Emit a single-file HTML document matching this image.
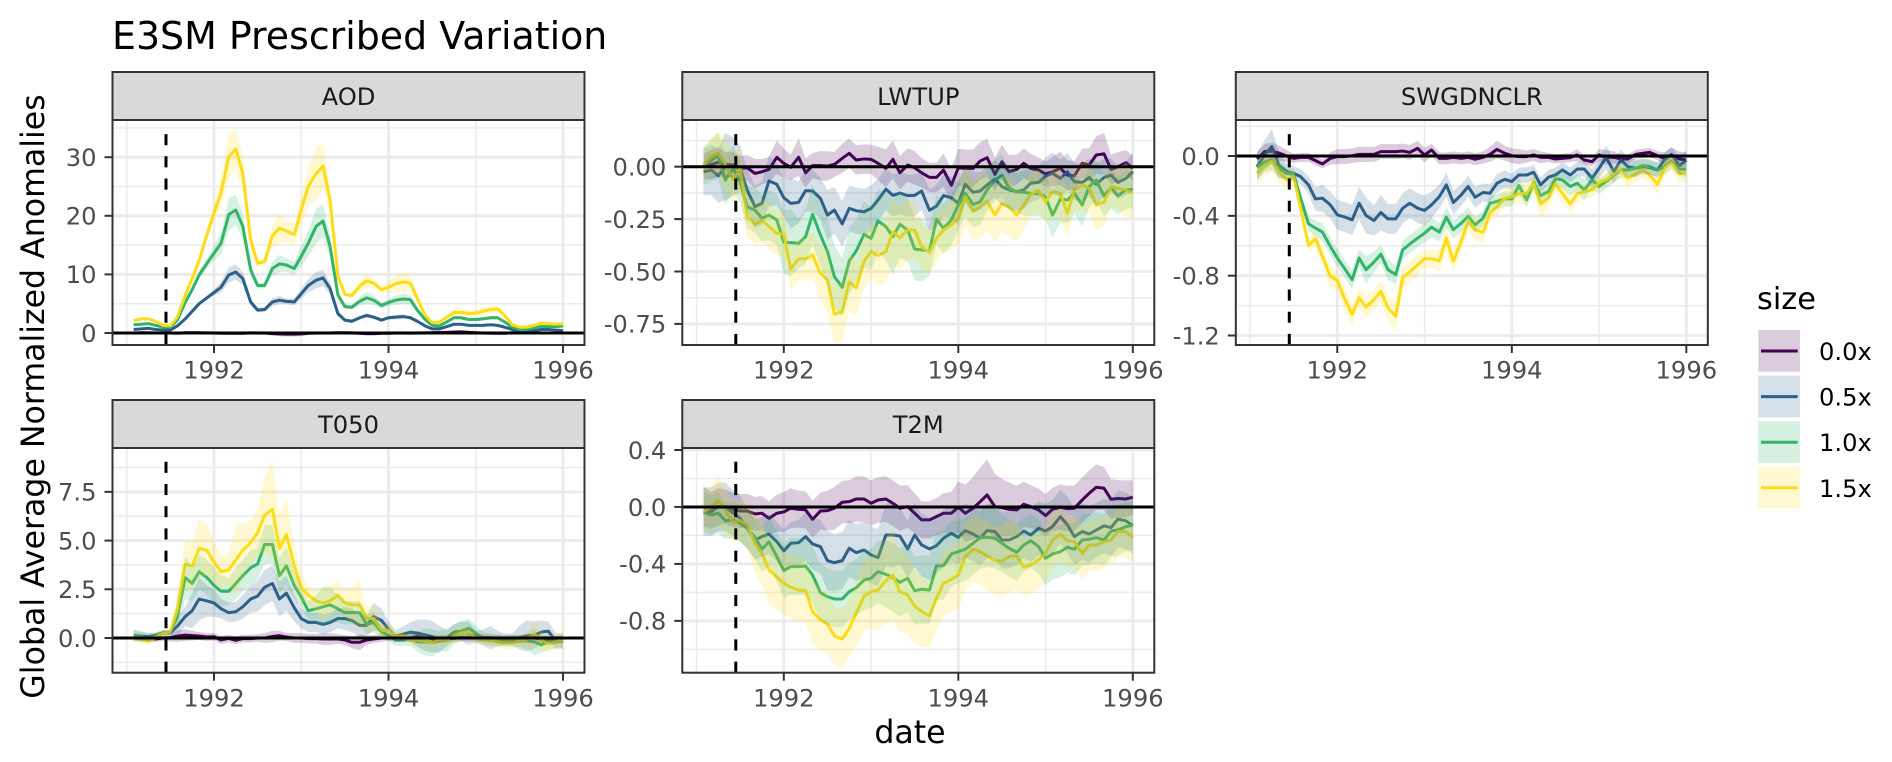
<!DOCTYPE html>
<html lang="en">
<head>
<meta charset="utf-8">
<title>E3SM Prescribed Variation</title>
<style>
html,body{margin:0;padding:0;background:#fff;width:1892px;height:762px;overflow:hidden}
svg{display:block;font-family:"DejaVu Sans","Liberation Sans",sans-serif}
</style>
</head>
<body>
<svg id="chart" xmlns="http://www.w3.org/2000/svg" width="1892" height="762" viewBox="0 0 1892 762">
  <rect x="0" y="0" width="1892" height="762" fill="#fff"/>
  <text x="112" y="49" font-size="37.9" fill="#000">E3SM Prescribed Variation</text>
  <text transform="translate(44,396.5) rotate(-90)" text-anchor="middle" font-size="31.6" fill="#000">Global Average Normalized Anomalies</text>
  <text x="910" y="743" text-anchor="middle" font-size="31.6" fill="#000">date</text>
  <g id="panels"></g>
  <g>
    <text x="1757" y="309" font-size="30.4" fill="#000">size</text>
    <g>
      <rect x="1758.3" y="330" width="41.7" height="41.7" fill="#440154" fill-opacity=".2"/>
      <line x1="1761" x2="1797.7" y1="351" y2="351" stroke="#440154" stroke-width="3"/>
      <text x="1819" y="360" font-size="24.2" fill="#000">0.0x</text>
    </g>
    <g>
      <rect x="1758.3" y="375.6" width="41.7" height="41.7" fill="#2C5F8A" fill-opacity=".2"/>
      <line x1="1761" x2="1797.7" y1="396.6" y2="396.6" stroke="#2C5F8A" stroke-width="3"/>
      <text x="1819" y="405.6" font-size="24.2" fill="#000">0.5x</text>
    </g>
    <g>
      <rect x="1758.3" y="421.2" width="41.7" height="41.7" fill="#32B46A" fill-opacity=".2"/>
      <line x1="1761" x2="1797.7" y1="442.2" y2="442.2" stroke="#32B46A" stroke-width="3"/>
      <text x="1819" y="451.2" font-size="24.2" fill="#000">1.0x</text>
    </g>
    <g>
      <rect x="1758.3" y="466.8" width="41.7" height="41.7" fill="#FFDD14" fill-opacity=".2"/>
      <line x1="1761" x2="1797.7" y1="487.8" y2="487.8" stroke="#FFDD14" stroke-width="3"/>
      <text x="1819" y="496.8" font-size="24.2" fill="#000">1.5x</text>
    </g>
  </g>
</svg>
<script>
// ---- categories ----
const dates = [
1991.08,1991.17,1991.25,1991.33,1991.42,1991.50,1991.58,1991.67,1991.75,1991.83,1991.92,1992.00,
1992.08,1992.17,1992.25,1992.33,1992.42,1992.50,1992.58,1992.67,1992.75,1992.83,1992.92,1993.00,
1993.08,1993.17,1993.25,1993.33,1993.42,1993.50,1993.58,1993.67,1993.75,1993.83,1993.92,1994.00,
1994.08,1994.17,1994.25,1994.33,1994.42,1994.50,1994.58,1994.67,1994.75,1994.83,1994.92,1995.00,
1995.08,1995.17,1995.25,1995.33,1995.42,1995.50,1995.58,1995.67,1995.75,1995.83,1995.92,1996.00];
const sizeNames = ["0.0x","0.5x","1.0x","1.5x"];
const sizeColors = ["#440154","#2C5F8A","#32B46A","#FFDD14"];
const eruptionDate = 1991.45;
const xMajorTicks = [1992,1994,1996];
const xTickLabels = ["1992","1994","1996"];
const xMinorTicks = [1991,1993,1995];

// ---- AOD ----
const aod_s00 = [0,.05,.05,0,0,0,-.05,.05,.05,.05,.02,0,-.02,-.05,-.05,-.05,.02,0,0,-.1,-.15,-.2,-.2,-.15,-.05,0,0,0,.05,.05,.02,-.05,-.1,-.1,-.05,-.05,0,0,-.02,0,.02,.05,.08,.1,.15,.2,.1,.05,0,-.02,-.05,-.05,.05,.05,.02,0,0,0,0,0];
const aod_s05 = [.6,.7,.8,.6,.5,.5,1.2,2.4,3.7,5,6,6.9,7.8,9.9,10.4,9.3,5.3,3.9,4,5.3,5.6,5.4,5.3,6.7,8.1,9,9.4,7.6,3.3,2.2,2,2.6,3,2.7,2.2,2.6,2.7,2.8,2.6,2,1.2,.7,.7,1.1,1.5,1.5,1.3,1.3,1.3,1.4,1.3,1,.6,.3,.3,.4,.6,.6,.5,.4];
const aod_s10 = [1.4,1.5,1.6,1.3,1,1,2.2,5.2,7.4,9.9,11.9,13.6,15.3,20.2,21,18.2,10.8,8.1,8.1,11,11.8,11.6,11,13.1,15.3,18.2,19.1,14.8,6.5,4.5,4.4,5.4,6,5.6,4.7,5.2,5.6,5.8,5.7,3.9,2.3,1.3,1.2,1.9,2.6,2.6,2.3,2.3,2.4,2.6,2.6,1.9,1,.6,.6,.9,1.1,1.1,1.1,1.2];
const aod_s15 = [2.1,2.4,2.4,2,1.3,1.2,2.7,6.4,9.3,12.4,16.8,20.5,23.9,30.1,31.4,27.3,15.9,11.9,12.2,16.6,17.9,17.4,16.8,21,25,27.2,28.5,22.7,9.7,6.6,6.4,8,8.9,8.5,7.4,7.8,8.4,8.7,8.5,5.9,3,1.8,1.8,2.7,3.5,3.5,3.3,3.4,3.7,4,4.1,3,1.4,1,1,1.3,1.7,1.6,1.5,1.6];
const aod_b00 = [.2,.2,.2,.2,.2,.2,.2,.3,.3,.3,.3,.3,.3,.3,.3,.3,.3,.3,.3,.3,.4,.4,.4,.4,.3,.3,.3,.3,.3,.3,.3,.3,.3,.3,.3,.3,.3,.3,.3,.3,.3,.3,.3,.3,.3,.3,.3,.3,.3,.3,.3,.3,.2,.2,.2,.2,.2,.2,.2,.2];
const aod_b05 = [.1,.1,.1,.1,.1,.1,.2,.2,.2,.3,.4,.5,.9,1.3,1.3,1.1,.6,.4,.4,.7,.7,.5,.6,.9,1.1,1.4,1.4,1,.5,.3,.3,.3,.4,.3,.3,.3,.4,.4,.3,.3,.2,.2,.2,.2,.2,.2,.2,.2,.2,.2,.2,.2,.1,.1,.1,.1,.1,.1,.1,.1];
const aod_b10 = [.2,.2,.2,.2,.1,.1,.3,.4,.5,.7,.9,1.2,1.8,2.8,2.6,2.2,1,.5,.5,1.2,1.5,1.1,1.2,1.7,2.2,3,2.8,1.8,.7,.4,.4,.7,1,.8,.5,.6,.8,.9,.7,.5,.3,.2,.2,.3,.3,.3,.3,.3,.3,.3,.3,.2,.1,.1,.1,.1,.1,.1,.1,.1];
const aod_b15 = [.3,.3,.3,.3,.2,.2,.4,.5,.6,.8,1,1.5,2.5,3.8,3.4,3,1.2,.7,.8,1.8,2.6,1.8,1.9,2.5,3.3,4.6,3.7,2.5,.8,.4,.4,.9,1.2,.9,.5,.9,1.5,1.7,1.4,.6,.3,.2,.2,.4,.6,.5,.5,.5,.6,.7,.6,.3,.1,.1,.1,.1,.2,.2,.2,.2];
const aod_ticks = [0,10,20,30];
const aod_labels = ["0","10","20","30"];
const aod_minor = [5,15,25,35];

// ---- LWTUP ----
const lwtup_s00 = [0,.011,.021,.011,.008,-.008,-.005,-.032,-.024,-.013,.045,.016,-.003,.045,-.029,.005,.005,.003,.011,.04,.064,.032,.037,.035,.016,-.008,.035,-.029,.008,-.005,-.029,-.051,-.051,-.016,-.089,-.005,-.008,-.008,.027,.043,-.037,.024,-.024,-.013,.016,-.008,-.016,-.035,-.024,-.008,-.04,-.043,.016,.008,.056,.061,-.013,0,.019,-.008];
const lwtup_s05 = [-.024,-.016,-.043,0,0,-.008,-.111,-.191,-.175,-.068,-.084,-.148,-.175,-.17,-.114,-.116,-.151,-.231,-.207,-.273,-.199,-.21,-.215,-.199,-.159,-.107,-.137,-.126,-.138,-.137,-.116,-.208,-.188,-.138,-.148,-.175,-.084,-.122,-.116,-.087,-.059,-.095,-.111,-.119,-.111,-.079,-.075,-.045,-.032,-.056,-.024,-.072,-.075,-.052,-.084,-.052,-.04,-.075,-.056,-.024];
const lwtup_s10 = [0,.032,.052,-.064,-.008,-.072,-.191,-.207,-.246,-.231,-.254,-.361,-.362,-.366,-.334,-.227,-.326,-.405,-.525,-.576,-.45,-.402,-.323,-.342,-.259,-.286,-.334,-.275,-.302,-.393,-.397,-.402,-.25,-.294,-.254,-.183,-.127,-.18,-.167,-.111,-.064,-.04,-.103,-.119,-.122,-.127,-.127,-.143,-.231,-.154,-.159,-.127,-.183,-.095,-.064,-.14,-.099,-.139,-.111,-.108];
const lwtup_s15 = [.008,.048,.064,.011,-.064,-.008,-.237,-.275,-.254,-.286,-.318,-.323,-.488,-.44,-.44,-.421,-.509,-.541,-.704,-.692,-.549,-.58,-.45,-.405,-.424,-.405,-.31,-.339,-.302,-.302,-.382,-.409,-.342,-.302,-.278,-.246,-.143,-.211,-.191,-.164,-.231,-.175,-.191,-.231,-.183,-.13,-.115,-.167,-.119,-.127,-.223,-.111,-.087,-.103,-.183,-.17,-.095,-.103,-.111,-.127];
const lwtup_b00 = [.06,.07,.07,.06,.06,.06,.06,.07,.06,.06,.08,.07,.06,.09,.07,.06,.07,.07,.06,.07,.07,.07,.07,.07,.08,.09,.09,.08,.08,.08,.07,.07,.07,.08,.08,.09,.09,.09,.09,.09,.08,.08,.08,.07,.07,.07,.06,.06,.07,.08,.07,.07,.07,.08,.09,.1,.07,.07,.06,.06];
const lwtup_b05 = [.11,.12,.13,.16,.14,.11,.1,.1,.1,.12,.1,.09,.12,.1,.1,.1,.1,.12,.11,.11,.11,.11,.11,.11,.1,.1,.1,.1,.1,.1,.09,.1,.1,.1,.1,.1,.09,.1,.09,.09,.09,.09,.09,.09,.09,.09,.08,.09,.1,.09,.09,.09,.09,.09,.1,.09,.08,.08,.08,.09];
const lwtup_b10 = [.09,.1,.11,.12,.11,.1,.1,.11,.11,.12,.12,.15,.16,.12,.13,.14,.15,.16,.15,.14,.16,.15,.16,.15,.15,.16,.18,.16,.15,.15,.15,.12,.12,.12,.12,.12,.11,.11,.11,.1,.1,.1,.1,.1,.11,.11,.11,.11,.11,.11,.11,.1,.1,.1,.1,.1,.1,.09,.09,.09];
const lwtup_b15 = [.08,.09,.1,.12,.11,.11,.1,.1,.1,.11,.1,.11,.1,.1,.1,.11,.13,.15,.14,.14,.14,.13,.13,.13,.14,.15,.16,.15,.15,.13,.11,.1,.11,.11,.12,.13,.14,.14,.15,.14,.13,.13,.14,.13,.12,.1,.1,.1,.12,.12,.11,.1,.12,.12,.12,.11,.1,.1,.13,.12];
const lwtup_ticks = [0,-.25,-.5,-.75];
const lwtup_labels = ["0.00","-0.25","-0.50","-0.75"];
const lwtup_minor = [.125,-.125,-.375,-.625];

// ---- SWGDNCLR ----
const sw_s00 = [-.02,.03,.03,.02,0,-.016,-.009,-.009,-.031,-.053,-.016,-.004,-.004,.002,.011,.011,.011,.029,.029,.029,.033,.024,.051,.007,.04,-.016,-.016,-.009,-.016,-.009,-.022,-.009,.011,.044,.018,.002,-.004,-.004,.007,-.009,-.009,-.02,-.016,-.011,.007,-.027,-.038,.007,-.009,-.009,-.02,-.02,.011,.018,.024,.002,-.016,.007,-.02,-.027];
const sw_s05 = [-.071,.007,.062,-.06,-.104,-.116,-.138,-.193,-.287,-.282,-.327,-.393,-.407,-.427,-.316,-.398,-.431,-.378,-.42,-.42,-.349,-.316,-.349,-.364,-.327,-.271,-.193,-.311,-.26,-.204,-.276,-.244,-.249,-.182,-.156,-.171,-.127,-.127,-.109,-.193,-.142,-.127,-.093,-.127,-.087,-.087,-.149,-.082,-.009,-.104,-.027,-.071,-.082,-.071,-.078,-.093,-.027,.011,-.067,-.027];
const sw_s10 = [-.078,-.038,-.027,-.082,-.116,-.122,-.282,-.453,-.482,-.509,-.604,-.682,-.749,-.827,-.682,-.76,-.709,-.656,-.76,-.793,-.627,-.589,-.549,-.516,-.476,-.509,-.409,-.493,-.449,-.404,-.46,-.416,-.316,-.304,-.287,-.287,-.198,-.293,-.176,-.264,-.238,-.153,-.16,-.204,-.182,-.227,-.16,-.204,-.171,-.127,-.093,-.093,-.082,-.064,-.071,-.093,-.071,-.038,-.087,-.089];
const sw_s15 = [-.116,-.064,-.033,-.104,-.16,-.138,-.349,-.598,-.553,-.671,-.804,-.831,-.949,-1.06,-.949,-1.009,-.96,-.904,-1.016,-1.071,-.811,-.776,-.727,-.687,-.687,-.7,-.549,-.704,-.571,-.438,-.493,-.511,-.382,-.338,-.282,-.271,-.253,-.249,-.182,-.322,-.282,-.187,-.249,-.322,-.253,-.238,-.227,-.176,-.16,-.122,-.093,-.149,-.122,-.093,-.127,-.189,-.082,-.042,-.116,-.116];
const sw_b00 = [.05,.05,.06,.05,.04,.03,.03,.03,.03,.03,.04,.05,.05,.05,.05,.05,.05,.05,.05,.05,.05,.05,.05,.05,.04,.04,.04,.04,.04,.04,.04,.04,.05,.06,.05,.05,.05,.04,.04,.04,.03,.03,.03,.03,.04,.03,.03,.04,.05,.04,.03,.03,.03,.03,.03,.03,.04,.05,.05,.05];
const sw_b05 = [.09,.1,.12,.09,.05,.05,.05,.06,.08,.09,.09,.1,.1,.1,.11,.12,.1,.12,.1,.1,.1,.1,.1,.1,.09,.08,.08,.08,.07,.07,.07,.06,.06,.06,.06,.05,.05,.05,.05,.05,.05,.05,.05,.05,.05,.05,.06,.06,.08,.08,.07,.06,.06,.05,.05,.05,.05,.05,.06,.07];
const sw_b10 = [.08,.07,.07,.06,.04,.04,.04,.05,.05,.06,.06,.06,.06,.06,.06,.09,.07,.06,.07,.06,.06,.06,.06,.06,.07,.06,.07,.06,.06,.06,.05,.05,.05,.05,.05,.05,.05,.05,.05,.05,.05,.05,.06,.06,.06,.07,.06,.05,.05,.05,.05,.05,.05,.05,.05,.05,.05,.05,.05,.05];
const sw_b15 = [.08,.07,.07,.07,.06,.05,.05,.05,.05,.06,.07,.07,.08,.07,.07,.07,.07,.07,.08,.1,.07,.07,.07,.06,.06,.07,.09,.07,.07,.07,.07,.07,.06,.06,.06,.06,.06,.07,.07,.09,.07,.06,.06,.06,.06,.05,.05,.05,.05,.05,.05,.06,.05,.05,.05,.07,.06,.05,.06,.06];
const sw_ticks = [0,-.4,-.8,-1.2];
const sw_labels = ["0.0","-0.4","-0.8","-1.2"];
const sw_minor = [.2,-.2,-.6,-1];

// ---- T050 ----
const t050_s00 = [0,0,-.05,-.05,0,.02,.1,.15,.12,.1,.05,.07,-.1,-.02,-.12,-.03,-.03,0,0,.08,.12,.05,0,0,-.03,-.03,-.05,-.05,-.05,-.1,-.22,-.22,-.1,-.05,0,0,0,.02,0,.1,.05,-.05,-.05,-.02,-.02,.02,.02,.02,0,-.03,-.05,-.1,-.05,-.05,0,0,-.05,-.1,-.1,-.05];
const t050_s05 = [.14,.1,.07,.14,.27,.27,.6,1.1,1.4,2,1.9,1.8,1.5,1.3,1.35,1.6,2,2.15,2.6,2.8,2,2.3,1.55,1,.8,.8,.7,.8,1,1,.9,.65,.65,1.1,.9,.45,.1,.2,.3,.25,.15,.07,-.07,0,.3,.35,.25,.07,.02,.02,-.03,-.07,-.07,.02,.1,.15,.3,.35,-.15,-.15];
const t050_s10 = [.14,.07,.02,.1,.27,.31,1.1,3.1,2.8,3.4,3.1,2.7,2.4,2.4,2.8,3.2,3.6,3.8,4.8,4.8,3.2,3.7,2.7,2.1,1.4,1.5,1.6,1.7,1.5,1.3,1.3,1.3,.7,.8,.3,.15,-.1,-.1,0,-.2,-.2,-.25,-.15,-.1,.2,.35,.5,.25,0,-.07,-.1,-.15,-.15,-.15,-.15,-.2,-.35,-.2,-.2,-.15];
const t050_s15 = [.02,-.07,-.15,.02,.24,.31,1.5,3.8,3.7,4.6,4.5,3.9,3.4,3.5,4,4.5,4.9,5.4,6.3,6.6,4.6,5.3,3.7,2.6,2.2,1.9,1.8,1.9,2.2,1.8,1.7,1.7,1,1,.4,.4,.1,.1,-.1,-.1,-.15,-.25,-.1,-.1,.1,.25,.3,0,-.1,-.1,-.2,-.25,-.25,-.15,-.1,.2,-.1,-.3,-.2,-.1];
const t050_b00 = [.15,.15,.15,.15,.15,.2,.3,.3,.25,.2,.2,.2,.2,.2,.2,.2,.2,.2,.25,.3,.25,.2,.25,.25,.25,.25,.3,.3,.25,.25,.3,.4,.25,.2,.2,.15,.2,.2,.2,.25,.2,.2,.2,.2,.2,.2,.2,.2,.2,.2,.2,.2,.2,.2,.2,.2,.2,.2,.2,.2];
const t050_b05 = [.25,.2,.2,.15,.15,.1,.5,.5,.9,1.1,.8,.7,.5,.5,.5,.6,.7,.8,.9,.9,.9,.9,.7,.5,.5,.5,.5,.5,.5,.6,.6,.6,.5,.7,.6,.4,.3,.4,.5,.7,.8,.8,.7,.4,.4,.5,.6,.3,.4,.6,.4,.3,.3,.6,.8,.7,.6,.5,.4,.4];
const t050_b10 = [.3,.3,.2,.15,.15,.1,.6,1.1,.9,.9,.9,.9,.8,.7,.8,.8,.9,.8,1,1,.9,1,.7,.5,.5,.7,1,.9,.7,.6,.6,.6,.5,.5,.3,.3,.3,.3,.4,.5,.7,.7,.5,.6,.5,.5,.5,.4,.3,.3,.3,.3,.3,.3,.4,.7,.4,.4,.3,.3];
const t050_b15 = [.2,.2,.2,.15,.15,.1,.7,1.3,1.2,1.5,1.3,1.1,.8,.8,1.8,1.4,1.1,1.2,1.9,2.5,1.7,1.9,1.1,.7,.5,.6,.8,.8,.7,.7,.9,1.2,.6,.7,.3,.3,.2,.2,.2,.3,.3,.3,.3,.3,.4,.4,.3,.3,.3,.3,.3,.3,.3,.3,.4,.7,.5,.4,.4,.4];
const t050_ticks = [0,2.5,5,7.5];
const t050_labels = ["0.0","2.5","5.0","7.5"];
const t050_minor = [-1.25,1.25,3.75,6.25,8.75];

// ---- T2M ----
const t2m_s00 = [.002,-.026,.002,.002,-.021,-.028,-.028,-.049,-.044,-.08,-.044,-.035,-.009,-.016,-.021,-.087,-.028,-.026,-.009,.033,.037,.056,.056,.026,.049,.056,.026,-.009,.002,-.044,-.091,-.091,-.068,-.044,-.044,-.002,-.044,-.009,.037,.084,.002,-.005,-.016,-.021,.019,.002,-.021,-.061,-.016,-.002,-.012,-.009,.049,.096,.138,.131,.054,.059,.056,.068];
const t2m_s05 = [-.033,-.033,.002,.002,-.044,-.08,-.15,-.232,-.208,-.19,-.244,-.309,-.255,-.251,-.208,-.26,-.279,-.377,-.391,-.377,-.29,-.321,-.302,-.337,-.356,-.197,-.197,-.204,-.295,-.197,-.267,-.295,-.272,-.22,-.185,-.213,-.166,-.19,-.22,-.166,-.173,-.232,-.232,-.208,-.169,-.197,-.15,-.169,-.138,-.068,-.126,-.208,-.173,-.19,-.162,-.133,-.145,-.084,-.098,-.131];
const t2m_s10 = [-.037,-.056,-.044,-.098,-.091,-.115,-.15,-.213,-.297,-.244,-.349,-.447,-.419,-.419,-.415,-.478,-.602,-.63,-.646,-.646,-.595,-.567,-.513,-.501,-.454,-.473,-.496,-.529,-.501,-.588,-.578,-.583,-.415,-.412,-.33,-.314,-.297,-.255,-.215,-.213,-.22,-.255,-.29,-.318,-.267,-.237,-.279,-.361,-.33,-.314,-.283,-.297,-.232,-.227,-.215,-.232,-.169,-.162,-.138,-.129];
const t2m_s15 = [-.033,-.002,.044,-.021,-.11,-.096,-.126,-.255,-.326,-.443,-.49,-.536,-.564,-.583,-.588,-.735,-.794,-.822,-.906,-.927,-.852,-.747,-.625,-.595,-.583,-.518,-.478,-.595,-.618,-.696,-.735,-.763,-.642,-.536,-.508,-.478,-.349,-.297,-.314,-.344,-.377,-.379,-.349,-.342,-.424,-.407,-.372,-.326,-.232,-.192,-.237,-.244,-.326,-.267,-.267,-.244,-.232,-.173,-.173,-.213];
const t2m_b00 = [.14,.13,.13,.12,.12,.12,.12,.12,.12,.12,.13,.14,.14,.13,.13,.13,.13,.14,.15,.15,.15,.16,.16,.16,.16,.16,.16,.16,.15,.14,.13,.13,.13,.14,.15,.18,.2,.22,.24,.25,.23,.2,.19,.17,.16,.15,.15,.15,.15,.16,.16,.16,.16,.16,.16,.15,.14,.13,.13,.12];
const t2m_b05 = [.17,.17,.17,.17,.16,.16,.14,.14,.14,.14,.14,.15,.15,.16,.17,.18,.19,.21,.2,.2,.2,.2,.2,.2,.2,.22,.23,.2,.2,.22,.22,.22,.2,.2,.2,.19,.19,.19,.19,.19,.19,.2,.2,.2,.19,.19,.19,.19,.19,.19,.2,.2,.2,.2,.19,.19,.2,.2,.2,.2];
const t2m_b10 = [.14,.14,.14,.13,.13,.13,.14,.15,.16,.17,.18,.19,.2,.2,.2,.2,.2,.2,.2,.2,.2,.2,.21,.21,.22,.23,.24,.24,.24,.24,.24,.24,.24,.24,.23,.22,.22,.22,.22,.21,.21,.2,.2,.2,.19,.19,.19,.19,.18,.18,.18,.18,.18,.18,.18,.18,.18,.18,.17,.17];
const t2m_b15 = [.14,.16,.17,.15,.14,.14,.17,.2,.22,.23,.23,.22,.22,.22,.22,.22,.22,.21,.2,.2,.2,.22,.25,.25,.28,.3,.32,.28,.27,.26,.25,.22,.22,.23,.23,.24,.24,.23,.23,.24,.24,.25,.25,.24,.2,.2,.2,.2,.2,.18,.18,.18,.18,.18,.18,.18,.18,.18,.18,.18];
const t2m_ticks = [.4,0,-.4,-.8];
const t2m_labels = ["0.4","0.0","-0.4","-0.8"];
const t2m_minor = [.2,-.2,-.6,-1];

// ---- facets ----
const facets = [
  {name:"AOD",left:112.5,top:120,bottom:345,stripTop:72,yDomain:[-2.05,36.35],means:[aod_s00,aod_s05,aod_s10,aod_s15],bands:[aod_b00,aod_b05,aod_b10,aod_b15],ticks:aod_ticks,labels:aod_labels,minor:aod_minor},
  {name:"LWTUP",left:682.3,top:120,bottom:345,stripTop:72,yDomain:[-.8507,.2228],means:[lwtup_s00,lwtup_s05,lwtup_s10,lwtup_s15],bands:[lwtup_b00,lwtup_b05,lwtup_b10,lwtup_b15],ticks:lwtup_ticks,labels:lwtup_labels,minor:lwtup_minor},
  {name:"SWGDNCLR",left:1235.8,top:120,bottom:345,stripTop:72,yDomain:[-1.2634,.2406],means:[sw_s00,sw_s05,sw_s10,sw_s15],bands:[sw_b00,sw_b05,sw_b10,sw_b15],ticks:sw_ticks,labels:sw_labels,minor:sw_minor},
  {name:"T050",left:112.5,top:448,bottom:672.7,stripTop:400,yDomain:[-1.78,9.75],means:[t050_s00,t050_s05,t050_s10,t050_s15],bands:[t050_b00,t050_b05,t050_b10,t050_b15],ticks:t050_ticks,labels:t050_labels,minor:t050_minor},
  {name:"T2M",left:682.3,top:448,bottom:672.7,stripTop:400,yDomain:[-1.164,.414],means:[t2m_s00,t2m_s05,t2m_s10,t2m_s15],bands:[t2m_b00,t2m_b05,t2m_b10,t2m_b15],ticks:t2m_ticks,labels:t2m_labels,minor:t2m_minor}
];
const xDomain = [1990.837,1996.246];
const panelWidth = 472;

const NS = "http://www.w3.org/2000/svg";
const root = document.getElementById("panels");
function mk(parent, tag, attrs, txt){
  const n = document.createElementNS(NS, tag);
  for (const k in attrs) n.setAttribute(k, attrs[k]);
  if (txt !== undefined) n.textContent = txt;
  parent.appendChild(n);
  return n;
}
facets.forEach(function(f, idx){
  const key = f.name.toLowerCase();
  const right = f.left + panelWidth;
  const xScale = function(d){ return f.left + (d - xDomain[0]) / (xDomain[1] - xDomain[0]) * panelWidth; };
  const yScale = function(v){ return f.bottom - (v - f.yDomain[0]) / (f.yDomain[1] - f.yDomain[0]) * (f.bottom - f.top); };

  const g = mk(root, "g", {});
  
  

  const defs = mk(g, "defs", {});
  const clip = mk(defs, "clipPath", {id:"clip" + idx});
  mk(clip, "rect", {x:f.left, y:f.top, width:panelWidth, height:f.bottom - f.top});

  const bg = mk(g, "rect", {x:f.left, y:f.top, width:panelWidth, height:f.bottom - f.top, fill:"#fff"});
  
  

  const grid = mk(g, "g", {});
  
  
  f.minor.forEach(function(v){
    const y = yScale(v);
    if (y < f.top || y > f.bottom) return;
    mk(grid, "line", {x1:f.left, x2:right, y1:y, y2:y, stroke:"#EBEBEB", "stroke-width":1.5});
  });
  xMinorTicks.forEach(function(d){
    const x = xScale(d);
    mk(grid, "line", {x1:x, x2:x, y1:f.top, y2:f.bottom, stroke:"#EBEBEB", "stroke-width":1.5});
  });
  f.ticks.forEach(function(v){
    const y = yScale(v);
    mk(grid, "line", {x1:f.left, x2:right, y1:y, y2:y, stroke:"#EBEBEB", "stroke-width":2.8});
  });
  xMajorTicks.forEach(function(d){
    const x = xScale(d);
    mk(grid, "line", {x1:x, x2:x, y1:f.top, y2:f.bottom, stroke:"#EBEBEB", "stroke-width":2.8});
  });

  const plot = mk(g, "g", {"clip-path":"url(#clip" + idx + ")"});
  
  

  f.means.forEach(function(m, s){
    const pts = m.map(function(v, i){ return xScale(dates[i]).toFixed(2) + "," + yScale(v).toFixed(2); });
    const line = mk(plot, "polyline", {points:pts.join(" "), fill:"none", stroke:sizeColors[s], "stroke-width":3, "stroke-linejoin":"round"});
    
    
  });
  f.means.forEach(function(m, s){
    const upper = m.map(function(v, i){ return xScale(dates[i]).toFixed(2) + "," + yScale(v + f.bands[s][i]).toFixed(2); });
    const lower = m.map(function(v, i){ return xScale(dates[i]).toFixed(2) + "," + yScale(v - f.bands[s][i]).toFixed(2); }).reverse();
    const rib = mk(plot, "polygon", {points:upper.concat(lower).join(" "), fill:sizeColors[s], "fill-opacity":.2, stroke:"none"});
    
    
  });

  const zero = mk(plot, "line", {x1:f.left, x2:right, y1:yScale(0), y2:yScale(0), stroke:"#000", "stroke-width":3});
  
  
  const erupt = mk(plot, "line", {x1:xScale(eruptionDate), x2:xScale(eruptionDate), y1:f.bottom, y2:f.top + 11, stroke:"#000", "stroke-width":3, "stroke-dasharray":"11.1 11.1"});
  
  

  const border = mk(g, "rect", {x:f.left, y:f.top, width:panelWidth, height:f.bottom - f.top, fill:"none", stroke:"#333", "stroke-width":2});
  
  

  const strip = mk(g, "rect", {x:f.left, y:f.stripTop, width:panelWidth, height:f.top - f.stripTop, fill:"#D9D9D9", stroke:"#333", "stroke-width":2});
  
  
  const stripText = mk(g, "text", {x:f.left + panelWidth / 2, y:f.stripTop + 33, "text-anchor":"middle", "font-size":24.2, fill:"#1A1A1A"}, f.name);
  
  

  f.ticks.forEach(function(v, i){
    const y = yScale(v);
    const tick = mk(g, "line", {x1:f.left - 8, x2:f.left, y1:y, y2:y, stroke:"#333", "stroke-width":2});
    
    
    const lab = mk(g, "text", {x:f.left - 16, y:y + 8.8, "text-anchor":"end", "font-size":24.2, fill:"#4D4D4D"}, f.labels[i]);
    
    
  });
  xMajorTicks.forEach(function(d, i){
    const x = xScale(d);
    const tick = mk(g, "line", {x1:x, x2:x, y1:f.bottom, y2:f.bottom + 8, stroke:"#333", "stroke-width":2});
    
    
    const lab = mk(g, "text", {x:x, y:f.bottom + 33.6, "text-anchor":"middle", "font-size":24.2, fill:"#4D4D4D"}, xTickLabels[i]);
    
    
  });
});
</script>
</body>
</html>
